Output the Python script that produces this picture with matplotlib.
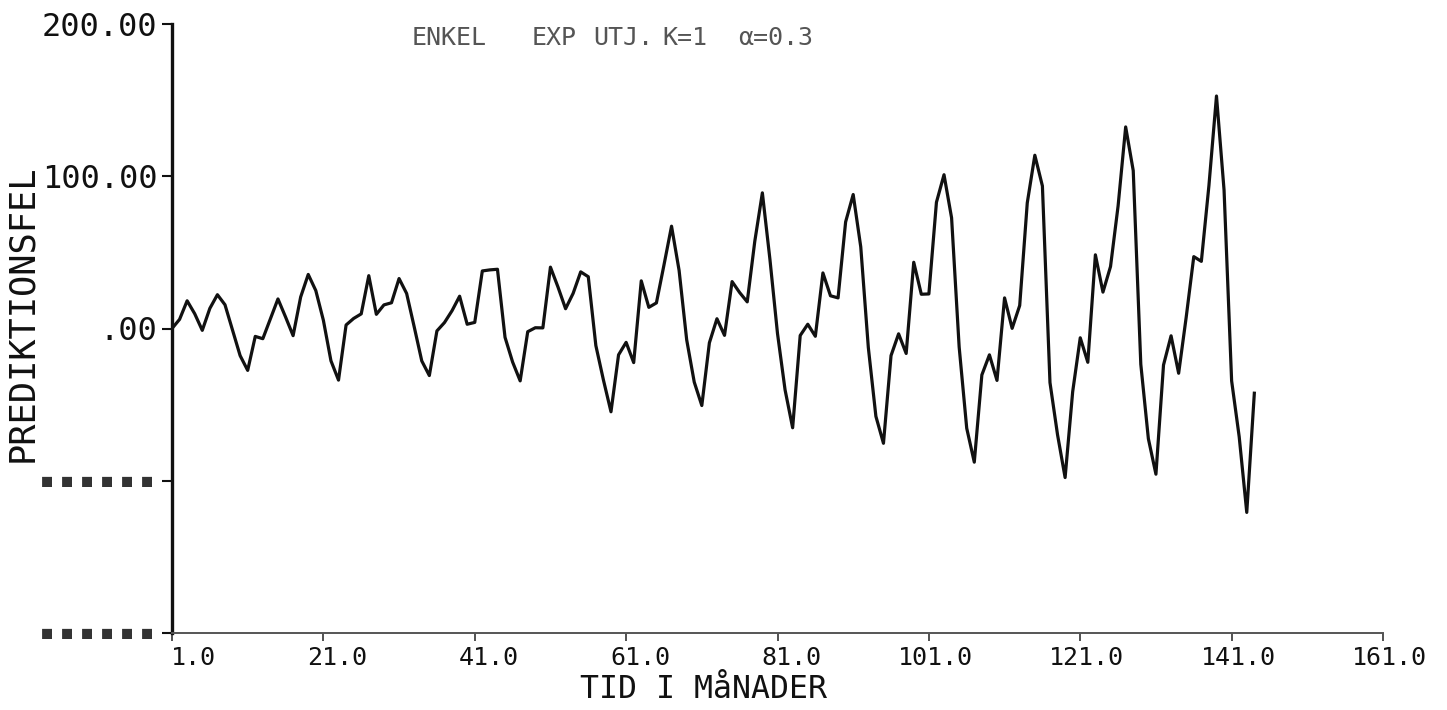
import matplotlib
matplotlib.use("Agg")
import matplotlib.pyplot as plt
import numpy as np

W, H = 1447, 710
PX = 0.72  # points per pixel at 100 dpi

# Prediction error, one step ahead, simple exponential smoothing (k=1, alpha=0.3)
months = np.arange(1, 145)
errors = [
    0.0, 6.0, 18.2, 9.7, -1.2, 13.2, 22.2, 15.6, -1.1, -17.8, -27.5, -5.2,
    -6.7, 6.3, 19.4, 7.6, -4.7, 20.7, 35.5, 24.9, 5.4, -21.2, -33.9, 2.3,
    6.6, 9.6, 34.7, 9.3, 15.5, 16.9, 32.8, 23.0, 1.1, -21.3, -30.9, -1.6,
    3.9, 11.7, 21.2, 2.8, 4.0, 37.8, 38.5, 38.9, -5.8, -22.0, -34.4, -2.1,
    0.5, 0.4, 40.3, 27.2, 13.0, 23.1, 37.2, 34.0, -11.2, -33.8, -54.7, -17.3,
    -9.1, -22.4, 31.3, 13.9, 16.8, 41.7, 67.2, 38.1, -7.4, -35.2, -50.6, -9.4,
    6.4, -4.5, 30.8, 23.6, 17.5, 57.3, 89.1, 45.4, -3.3, -40.3, -65.2, -4.6,
    2.8, -5.1, 36.5, 21.5, 20.1, 70.0, 88.0, 53.6, -12.5, -57.7, -75.4, -17.8,
    -3.5, -16.4, 43.5, 22.5, 22.7, 82.9, 101.0, 72.7, -12.1, -65.5, -87.8, -30.5,
    -17.3, -34.1, 20.1, 0.1, 15.1, 82.5, 113.8, 93.6, -35.5, -69.8, -97.9, -41.5,
    -6.1, -22.2, 48.4, 23.9, 40.7, 80.5, 132.4, 103.7, -23.5, -72.4, -95.7, -24.0,
    -4.8, -29.4, 7.5, 47.2, 44.1, 93.8, 152.7, 90.9, -34.4, -71.1, -120.8, -42.5,
]

x_ticks = [1, 21, 41, 61, 81, 101, 121, 141, 161]
x_tick_labels = ["1.0", "21.0", "41.0", "61.0", "81.0", "101.0", "121.0", "141.0", "161.0"]
y_ticks = [-200, -100, 0, 100, 200]
y_tick_labels = ["■ ■ ■ ■ ■ ■", "■ ■ ■ ■ ■ ■", ".00", "100.00", "200.00"]

title_words = ["ENKEL", "EXP", "UTJ.", "K=1", "α=0.3"]
title_word_px = [412, 532, 593, 662, 738]
x_label = "TID I MåNADER"
y_label = "PREDIKTIONSFEL"

plt.rcParams["font.family"] = ["DejaVu Sans Mono", "DejaVu Sans"]

fig = plt.figure(figsize=(W / 100, H / 100), dpi=100)
fig.patch.set_facecolor("white")
ax = fig.add_axes([172 / W, 1 - 633 / H, (1383 - 172) / W, (633 - 24) / H])
ax.set_facecolor("white")

ax.plot(months, errors, color="#111111", lw=2.3, solid_joinstyle="round")

ax.set_xlim(1, 161)
ax.set_ylim(-200, 200)

for side in ("top", "right"):
    ax.spines[side].set_visible(False)
ax.spines["left"].set_linewidth(2.4)
ax.spines["left"].set_color("#111111")
ax.spines["bottom"].set_linewidth(1.4)
ax.spines["bottom"].set_color("#555555")

# x axis: ticks below the line, labels with the units digit on the tick
ax.set_xticks(x_ticks)
ax.set_xticklabels([])
ax.tick_params(axis="x", direction="out", length=6, width=1.2, color="#333333")
char_w = 0.602 * 18 / PX
for t, lab in zip(x_ticks, x_tick_labels):
    n_int = len(lab.split(".")[0])
    dx = -(n_int - 1) * char_w - 1
    ax.annotate(lab, xy=(t, -200), xycoords="data",
                xytext=(dx * PX, -32 * PX), textcoords="offset points",
                ha="left", va="baseline", fontsize=18, color="#111111",
                annotation_clip=False)

# y axis
ax.set_yticks(y_ticks)
ax.set_yticklabels([lab if not lab.startswith("■") else "" for lab in y_tick_labels])
ax.tick_params(axis="y", direction="out", length=7, width=1.5, pad=3.6,
               labelsize=23, color="#111111", labelcolor="#111111")
for v, lab in zip(y_ticks, y_tick_labels):
    if lab.startswith("■"):
        ax.annotate(lab, xy=(0, v), xycoords=("axes fraction", "data"),
                    xytext=(-20 * PX, 0), textcoords="offset points",
                    ha="right", va="center", fontsize=12, color="#333333",
                    annotation_clip=False)

# title, lettered word by word
for word, px in zip(title_words, title_word_px):
    fig.text(px / W, 1 - 45 / H, word, ha="left", va="baseline",
             fontsize=18, color="#555555")

fig.text(580 / W, 1 - 698 / H, x_label, ha="left", va="baseline",
         fontsize=22.7, color="#111111")
fig.text(22.5 / W, 1 - 313 / H, y_label, rotation=90, ha="center", va="center",
         fontsize=25.5, color="#111111")

fig.savefig("out.png", dpi=100, facecolor="white")
